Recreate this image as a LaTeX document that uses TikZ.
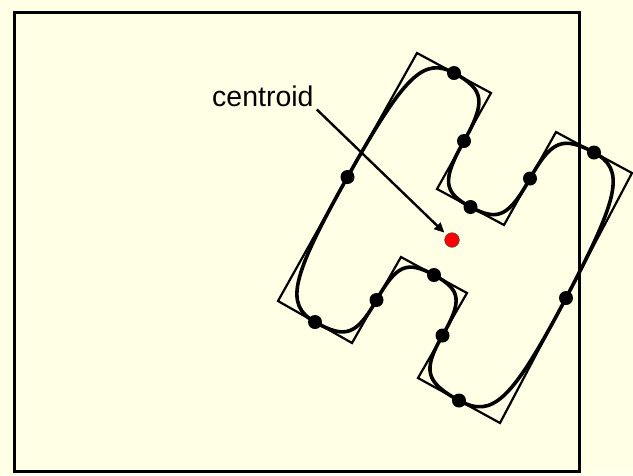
\documentclass[tikz,border=0pt]{standalone}
\usepackage{fontspec}
\setmainfont{Liberation Sans}
\usepackage{xcolor}
\usetikzlibrary{calc,arrows.meta}
\definecolor{slidebg}{RGB}{255,255,230}

\begin{document}
\begin{tikzpicture}[x=1pt,y=-1pt,
  outline/.style={line width=2.2pt,line join=miter},
  spline/.style={line width=3.6pt,line cap=round,line join=round},
  knot/.style={fill=black}]
\useasboundingbox (0,0) rectangle (633,475);
\fill[slidebg] (0,0) rectangle (633,475);
\draw[line width=3pt] (14,12) rectangle (579,471);

% corners of the tilted H
\coordinate (V1) at (417,53);
\coordinate (V2) at (491,93);
\coordinate (V3) at (437,189);
\coordinate (V4) at (504,225);
\coordinate (V5) at (556,132);
\coordinate (V6) at (632,173);
\coordinate (V7) at (500,423);
\coordinate (V8) at (418,378);
\coordinate (V9) at (467,293);
\coordinate (V10) at (401,257);
\coordinate (V11) at (352,343);
\coordinate (V12) at (278,301);
% knots halfway along each side
\foreach \a/\b in {1/2,2/3,3/4,4/5,5/6,6/7,7/8,8/9,9/10,10/11,11/12,12/1}
  \coordinate (D\a) at ($(V\a)!0.5!(V\b)$);

\draw[outline] (V1) -- (V2) -- (V3) -- (V4) -- (V5) -- (V6) -- (V7) -- (V8)
  -- (V9) -- (V10) -- (V11) -- (V12) -- cycle;

\draw[spline] (D12) \foreach \p/\a in {12/1,1/2,2/3,3/4,4/5,5/6,6/7,7/8,8/9,9/10,10/11,11/12}
  { .. controls ($(D\p)!0.82!(V\a)$) and ($(D\a)!0.82!(V\a)$) .. (D\a) };

\foreach \i in {1,...,12}
  \fill[knot] (D\i) circle[radius=7pt];

\node(centroid) [circle,fill=red,draw=black!70,line width=0.6pt,inner sep=0pt,minimum size=14.6pt] at (452,240) {};
\node(label) [anchor=base west,inner sep=0pt,font=\fontsize{28.5}{30}\selectfont] at (212,106) {centroid};

\draw[line width=2.4pt,-{Triangle[length=10pt,width=9pt]},shorten >=3pt] ([xshift=3pt,yshift=-3pt]label.south east) -- (centroid);
\end{tikzpicture}
\end{document}
